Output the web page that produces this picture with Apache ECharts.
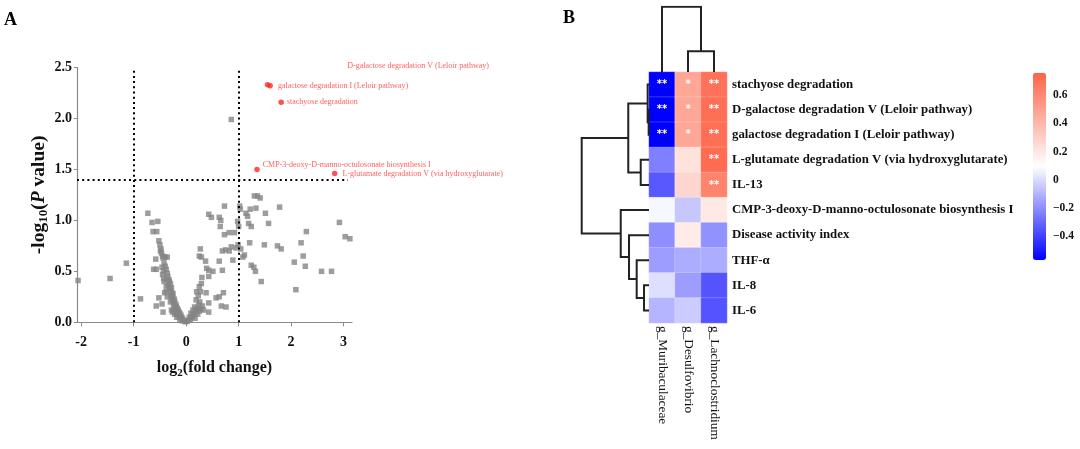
<!DOCTYPE html>
<html><head><meta charset="utf-8">
<script src="https://cdn.jsdelivr.net/npm/echarts@6/dist/echarts.min.js"></script>
<style>html,body{margin:0;padding:0;background:#fff}#c{width:1080px;height:449px}</style>
</head><body><div id="c"></div>
<script>
// ================= Panel A : volcano plot =================
const grayPoints = [
  [-2.06,0.41],[-1.45,0.43],[-1.14,0.58],[-0.87,0.23],[-0.73,1.07],[-0.65,0.98],[-0.54,0.99],[-0.63,0.89],[-0.56,0.89],
  [-0.58,0.62],[-0.62,0.52],[-0.57,0.52],[-0.46,0.54],[-0.52,0.24],[-0.57,0.16],[-0.46,0.18],[-0.44,0.10],[-0.43,0.43],[-0.38,0.35],[-0.41,0.29],
  [-0.52,0.80],[-0.50,0.76],[-0.48,0.72],[-0.47,0.68],[-0.45,0.65],[-0.44,0.63],[-0.40,0.64],[-0.36,0.64],[-0.42,0.58],[-0.40,0.55],
  [-0.38,0.52],[-0.36,0.48],[-0.35,0.45],[-0.33,0.42],[-0.32,0.40],[-0.30,0.38],[-0.34,0.36],[-0.28,0.34],[-0.30,0.31],[-0.27,0.29],
  [-0.25,0.28],[-0.26,0.25],[-0.23,0.23],[-0.22,0.21],[-0.24,0.19],[-0.20,0.18],[-0.19,0.16],[-0.17,0.14],[-0.21,0.13],[-0.15,0.12],
  [-0.14,0.10],[-0.12,0.09],[-0.16,0.08],[-0.10,0.07],[-0.09,0.05],[-0.07,0.04],[-0.12,0.03],[-0.05,0.02],[-0.03,0.01],[-0.01,0.005],
  [-0.08,0.015],[-0.18,0.05],[-0.22,0.08],[-0.28,0.12],[-0.30,0.20],[-0.38,0.30],[-0.42,0.40],[-0.45,0.47],[-0.36,0.25],[-0.26,0.10],
  [-0.49,0.70],[-0.43,0.50],[-0.37,0.42],[-0.31,0.33],[-0.29,0.26],[-0.27,0.22],[-0.24,0.15],[-0.2,0.11],[-0.18,0.08],[-0.13,0.05],
  [0.02,0.01],[0.05,0.02],[0.08,0.03],[0.10,0.05],[0.12,0.06],[0.15,0.08],[0.18,0.10],[0.20,0.12],[0.22,0.14],[0.16,0.15],
  [0.24,0.17],[0.26,0.20],[0.19,0.22],[0.23,0.26],[0.27,0.30],[0.25,0.35],[0.29,0.38],[0.30,0.44],[0.22,0.08],[0.25,0.11],
  [0.13,0.12],[0.09,0.09],[0.06,0.05],[0.17,0.04],[0.28,0.13],[0.31,0.16],[0.20,0.30],
  [0.27,0.72],[0.25,0.65],[0.29,0.64],[0.37,0.60],[0.43,1.06],[0.48,1.03],[0.39,0.53],[0.43,0.51],[0.51,0.50],[0.43,0.45],
  [0.38,0.29],[0.43,0.19],[0.43,0.10],[0.33,0.12],
  [0.63,1.03],[0.66,1.00],[0.65,0.94],[0.73,1.14],[0.73,0.86],[0.69,0.70],[0.75,0.71],[0.63,0.60],[0.69,0.51],[0.57,0.24],
  [0.63,0.25],[0.71,0.29],[0.67,0.16],[0.76,0.15],
  [0.82,0.88],[0.92,0.88],[0.86,0.74],[0.95,0.73],[0.82,0.70],[0.89,0.61],[0.86,1.99],
  [1.02,1.14],[1.03,1.11],[0.98,0.99],[1.00,0.94],[0.99,0.76],[1.04,0.72],[1.08,0.64],[1.11,0.66],
  [1.14,1.07],[1.17,1.04],[1.19,0.97],[1.24,0.94],[1.21,0.78],[1.24,0.56],[1.29,0.54],[1.32,0.50],[1.22,1.11],[1.33,1.12],
  [1.30,1.24],[1.36,1.24],[1.41,1.22],
  [1.43,0.40],[1.49,0.76],[1.51,1.07],[1.57,0.97],[1.78,1.13],[1.74,0.75],[1.81,0.72],
  [2.06,0.59],[2.09,0.32],[2.19,0.78],[2.23,0.65],[2.29,0.89],[2.27,0.55],[2.58,0.50],[2.77,0.50],[2.92,0.98],[3.03,0.84],[3.12,0.82]
];
const sigNames = [
  'D-galactose degradation V (Leloir pathway)',
  'galactose degradation I (Leloir pathway)',
  'stachyose degradation',
  'CMP-3-deoxy-D-manno-octulosonate biosynthesis I',
  'L-glutamate degradation V (via hydroxyglutarate)'
];
const sigX = [1.55, 1.60, 1.81, 1.35, 2.83];
const sigY = [2.33, 2.32, 2.16, 1.50, 1.46];
const pThreshold = 1.4;
const fcThresholds = [-1, 1];
const xTicksA = [-2, -1, 0, 1, 2, 3];

// ================= Panel B : clustered heatmap =================
const genera = ['g_Muribaculaceae', 'g_Desulfovibrio', 'g_Lachnoclostridium'];
const features = [
  'stachyose degradation',
  'D-galactose degradation V (Leloir pathway)',
  'galactose degradation I (Leloir pathway)',
  'L-glutamate degradation V (via hydroxyglutarate)',
  'IL-13',
  'CMP-3-deoxy-D-manno-octulosonate biosynthesis I',
  'Disease activity index',
  'THF-α',
  'IL-8',
  'IL-6'
];
const corr = [
  [-0.57, 0.47, 0.70],
  [-0.57, 0.47, 0.71],
  [-0.57, 0.47, 0.71],
  [-0.24, 0.22, 0.72],
  [-0.34, 0.27, 0.62],
  [0.075, -0.05, 0.19],
  [-0.20, 0.18, -0.19],
  [-0.16, -0.12, -0.12],
  [0.01, -0.16, -0.35],
  [-0.10, -0.04, -0.35]
];
const stars = [
  ['**','*','**'],
  ['**','*','**'],
  ['**','*','**'],
  ['','','**'],
  ['','','**'],
  ['','',''],['','',''],['','',''],['','',''],['','','']
];
// linkage: [childA, childB, height]; leaves 0..n-1, new clusters numbered n, n+1, ...
const rowLinkage = [
  [1, 2, 0.005],
  [0, 10, 0.02],
  [3, 4, 0.123],
  [11, 12, 0.308],
  [8, 9, 0.074],
  [7, 14, 0.183],
  [6, 15, 0.297],
  [5, 16, 0.42],
  [13, 17, 1.0]
];
const colLinkage = [
  [1, 2, 0.316],
  [0, 3, 1.0]
];
const colorMin = -0.57, colorMax = 0.76;
const colorbarTicks = [-0.4, -0.2, 0, 0.2, 0.4, 0.6];

// ---------- helpers ----------
function dendroSegments(linkage, nLeaves, horizontal) {
  const pos = [], hgt = [];
  for (let i = 0; i < nLeaves; i++) { pos.push(i); hgt.push(0); }
  const segs = [];
  linkage.forEach(([a, b, h]) => {
    const pa = pos[a], pb = pos[b], ha = hgt[a], hb = hgt[b];
    const pts = [[ha, pa], [h, pa], [h, pb], [hb, pb]];
    segs.push({ coords: horizontal ? pts : pts.map(p => [p[1], p[0]]) });
    pos.push((pa + pb) / 2); hgt.push(h);
  });
  return segs;
}
const heatData = [];
corr.forEach((row, r) => row.forEach((v, c) => heatData.push([c, r, v])));

const FONT = 'Liberation Serif';
const dotted = { color: '#000', width: 2, type: [2, 3.2] };

const option = {
  animation: false,
  textStyle: { fontFamily: FONT },
  graphic: [
    { type: 'text', left: 4, top: 11, style: { text: 'A', font: 'bold 18px "Liberation Serif"', fill: '#000' } },
    { type: 'text', left: 563, top: 9, style: { text: 'B', font: 'bold 18px "Liberation Serif"', fill: '#000' } }
  ],
  grid: [
    { left: 77, top: 67.5, width: 275, height: 254.8 },
    { left: 649, top: 72, width: 78, height: 251 },
    { left: 581.7, top: 72, width: 67.3, height: 251 },
    { left: 649, top: 6.7, width: 78, height: 65.3 },
    { left: 1033, top: 72.7, width: 13, height: 187.3 }
  ],
  xAxis: [
    { gridIndex: 0, type: 'value', min: -2.08, max: 3.16,
      axisLine: { show: true, onZero: false, lineStyle: { color: '#8a8a8a', width: 1.2 } },
      axisTick: { show: true, length: 4, customValues: xTicksA, lineStyle: { color: '#8a8a8a' } },
      axisLabel: { customValues: xTicksA, margin: 13, fontSize: 14, fontWeight: 'bold', color: '#111', fontFamily: FONT },
      splitLine: { show: false },
      name: '{a|log}{s|2}{a|(fold change)}', nameLocation: 'middle', nameGap: 36,
      nameTextStyle: { rich: {
        a: { fontSize: 16, fontWeight: 'bold', fontFamily: FONT, color: '#111', lineHeight: 20 },
        s: { fontSize: 11, fontWeight: 'bold', fontFamily: FONT, color: '#111', lineHeight: 20, verticalAlign: 'bottom', padding: [8, 0, 0, 0] }
      } } },
    { gridIndex: 1, type: 'category', data: genera, position: 'bottom',
      axisLine: { show: false }, axisTick: { show: false },
      axisLabel: { rotate: -90, margin: 3, fontSize: 13.3, color: '#111', fontFamily: FONT } },
    { gridIndex: 2, type: 'value', min: 0, max: 1, inverse: true, show: false },
    { gridIndex: 3, type: 'value', min: -0.5, max: 2.5, show: false },
    { gridIndex: 4, type: 'value', min: 0, max: 1, show: false }
  ],
  yAxis: [
    { gridIndex: 0, type: 'value', min: 0, max: 2.5, interval: 0.5,
      axisLine: { show: true, onZero: false, lineStyle: { color: '#8a8a8a', width: 1.2 } },
      axisTick: { show: true, length: 3, lineStyle: { color: '#8a8a8a' } },
      axisLabel: { margin: 5, fontSize: 14, fontWeight: 'bold', color: '#111', fontFamily: FONT, formatter: v => v.toFixed(1) },
      splitLine: { show: false },
      name: '{a|-log}{s|10}{a|(}{i|P}{a| value)}', nameLocation: 'middle', nameGap: 25, nameRotate: 90,
      nameTextStyle: { rich: {
        a: { fontSize: 19.5, fontWeight: 'bold', fontFamily: FONT, color: '#111', lineHeight: 24 },
        i: { fontSize: 19.5, fontWeight: 'bold', fontStyle: 'italic', fontFamily: FONT, color: '#111', lineHeight: 24 },
        s: { fontSize: 13, fontWeight: 'bold', fontFamily: FONT, color: '#111', lineHeight: 24, verticalAlign: 'bottom', padding: [10, 0, 0, 0] }
      } } },
    { gridIndex: 1, type: 'category', data: features, inverse: true, position: 'right',
      axisLine: { show: false }, axisTick: { show: false },
      axisLabel: { margin: 5, fontSize: 12.8, fontWeight: 'bold', color: '#111', fontFamily: FONT } },
    { gridIndex: 2, type: 'value', min: -0.5, max: 9.5, inverse: true, show: false },
    { gridIndex: 3, type: 'value', min: 0, max: 1, show: false },
    { gridIndex: 4, type: 'value', min: colorMin, max: colorMax, position: 'right',
      axisLine: { show: false }, axisTick: { show: false }, splitLine: { show: false },
      axisLabel: { customValues: colorbarTicks, margin: 7, fontSize: 11.5, fontWeight: 'bold', color: '#111', fontFamily: FONT,
        formatter: v => (Math.abs(v) < 1e-9 ? '0' : (v < 0 ? '\u2212' + Math.abs(v).toFixed(1) : v.toFixed(1))) } }
  ],
  visualMap: {
    type: 'continuous', seriesIndex: 3, min: colorMin, max: colorMax, calculable: false,
    orient: 'vertical', left: 1033, top: 72.7, itemWidth: 13, itemHeight: 187.3, padding: 0,
    text: null, showLabel: false, hoverLink: false,
    inRange: { color: ['#0000FF', '#FFFFFF', '#FF6347'] }
  },
  series: [
    { type: 'scatter', xAxisIndex: 0, yAxisIndex: 0, symbol: 'rect', symbolSize: 5.5,
      itemStyle: { color: '#858585' }, data: grayPoints, silent: true,
      markLine: { silent: true, symbol: 'none', label: { show: false }, lineStyle: dotted, animation: false,
        data: [
          [{ coord: [-2.08, pThreshold] }, { coord: [3.08, pThreshold] }],
          [{ coord: [fcThresholds[0], 0] }, { coord: [fcThresholds[0], 2.5] }],
          [{ coord: [fcThresholds[1], 0] }, { coord: [fcThresholds[1], 2.5] }]
        ] } },
    { type: 'scatter', xAxisIndex: 0, yAxisIndex: 0, symbol: 'circle', symbolSize: 5.5,
      itemStyle: { color: '#FF2626' }, silent: true,
      data: sigNames.map((n, i) => ({ name: n, value: [sigX[i], sigY[i]] })),
      label: { show: true, position: 'right', distance: 5, formatter: p => p.name,
        color: '#FF3535', fontSize: 8, fontFamily: FONT },
      labelLayout: p => {
        const off = [[72, -19], [0, 0], [-2, 0], [-2, -5], [0, 0]];
        const o = off[p.dataIndex];
        return { dx: o[0], dy: o[1] };
      } },
    // placeholder for index alignment (unused)
    { type: 'scatter', xAxisIndex: 4, yAxisIndex: 4, data: [] },
    { type: 'heatmap', xAxisIndex: 1, yAxisIndex: 1, data: heatData, silent: true,
      itemStyle: { borderColor: 'rgba(255,255,255,0.5)', borderWidth: 0.4 },
      label: { show: true, formatter: p => stars[p.data[1]][p.data[0]], color: '#fff', fontSize: 10, fontWeight: 'bold', fontFamily: 'DejaVu Sans' } },
    { type: 'lines', coordinateSystem: 'cartesian2d', xAxisIndex: 2, yAxisIndex: 2, polyline: true, silent: true,
      lineStyle: { color: '#222', width: 2, opacity: 1 }, data: dendroSegments(rowLinkage, features.length, true) },
    { type: 'lines', coordinateSystem: 'cartesian2d', xAxisIndex: 3, yAxisIndex: 3, polyline: true, silent: true,
      lineStyle: { color: '#222', width: 2, opacity: 1 }, data: dendroSegments(colLinkage, genera.length, false) }
  ]
};
const chart = echarts.init(document.getElementById('c'), null, { renderer: 'canvas' });
chart.setOption(option);
</script>
</body></html>
